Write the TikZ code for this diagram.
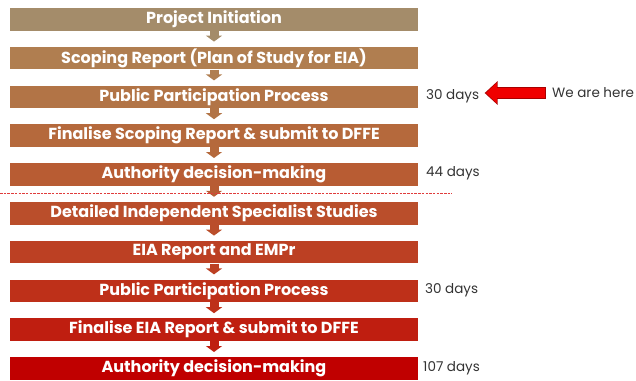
\documentclass[tikz,border=0pt]{standalone}
\usepackage{fontspec}
\setmainfont{Poppins}
\usetikzlibrary{arrows.meta,calc}
\definecolor{c1}{HTML}{A48C6A}
\definecolor{c2}{HTML}{B07E50}
\definecolor{c3}{HTML}{B27446}
\definecolor{c4}{HTML}{B5693C}
\definecolor{c5}{HTML}{B85C33}
\definecolor{c6}{HTML}{BA4E2B}
\definecolor{c7}{HTML}{BC4023}
\definecolor{c8}{HTML}{BE3019}
\definecolor{c9}{HTML}{BF1E10}
\definecolor{c10}{HTML}{C00000}
\definecolor{lbl}{HTML}{333333}
\definecolor{herered}{HTML}{F00000}
\definecolor{dashred}{HTML}{E03C3C}
\begin{document}
\begin{tikzpicture}[x=1pt,y=-1pt,
  stepbox/.style={minimum width=408pt,minimum height=22.5pt,inner sep=0pt,text=white,
    font=\fontsize{16}{17}\selectfont\bfseries},
  flow/.style={line width=9pt,shorten >=5pt,-{Triangle[width=16pt,length=6pt]}},
  daylbl/.style={anchor=west,inner sep=0pt,text=lbl,font=\fontsize{13.5}{14}\selectfont}]
\useasboundingbox (0,0) rectangle (636,380);
\node[stepbox,fill=c1] (b1) at (214,19.25) {Project Initiation};
\node[stepbox,fill=c2] (b2) at (214,58.05) {Scoping Report (Plan of Study for EIA)};
\node[stepbox,fill=c3] (b3) at (214,96.85) {Public Participation Process};
\node[stepbox,fill=c4] (b4) at (214,135.65) {Finalise Scoping Report \& submit to DFFE};
\node[stepbox,fill=c5] (b5) at (214,174.45) {Authority decision-making};
\node[stepbox,fill=c6] (b6) at (214,213.25) {Detailed Independent Specialist Studies};
\node[stepbox,fill=c7] (b7) at (214,252.05) {EIA Report and EMPr};
\node[stepbox,fill=c8] (b8) at (214,290.85) {Public Participation Process};
\node[stepbox,fill=c9] (b9) at (214,329.65) {Finalise EIA Report \& submit to DFFE};
\node[stepbox,fill=c10] (b10) at (214,368.45) {Authority decision-making};
\draw[flow,c1] (b1.south) -- (b2.north);
\draw[flow,c2] (b2.south) -- (b3.north);
\draw[flow,c3] (b3.south) -- (b4.north);
\draw[flow,c4] (b4.south) -- (b5.north);
\draw[flow,c5] (b5.south) -- (b6.north);
\draw[flow,c6] (b6.south) -- (b7.north);
\draw[flow,c7] (b7.south) -- (b8.north);
\draw[flow,c8] (b8.south) -- (b9.north);
\draw[flow,c9] (b9.south) -- (b10.north);
\coordinate (dl) at (0,193.5);
\coordinate (dr) at (452,193.5);
\draw[dashred,line width=1pt,dash pattern=on 2.5pt off 1.2pt] (dl) -- (dr);
\node[daylbl] (d1) at (426,96) {30 days};
\node[daylbl] (d2) at (426,173.5) {44 days};
\node[daylbl] (d3) at (425,290) {30 days};
\node[daylbl] (d4) at (423,368.5) {107 days};
\node[daylbl] (here) at (552,93) {We are here};
\draw[herered!70!black,line width=12.6pt,shorten <=6.4pt,shorten >=5.3pt,-{Triangle[width=23pt,length=13pt]}] (here.west) -- (d1.east|-here.west);
\draw[herered,line width=10.6pt,shorten <=7.4pt,shorten >=6.6pt,-{Triangle[width=20pt,length=11pt]}] (here.west) -- (d1.east|-here.west);
\end{tikzpicture}
\end{document}
